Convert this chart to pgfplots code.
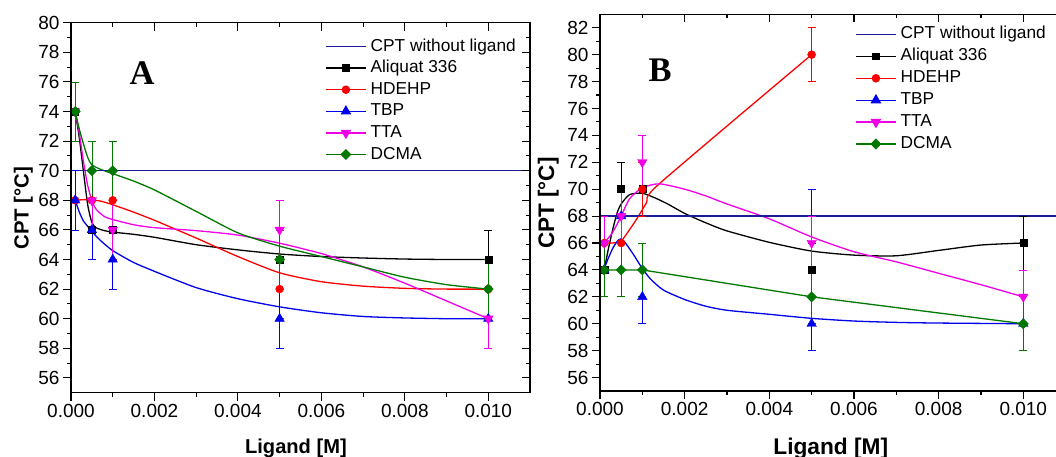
\documentclass[border=0pt]{standalone}
\usepackage{fontspec}
\setmainfont{Liberation Sans}
\newfontfamily\serifbold{Liberation Serif}
\usepackage{pgfplots}
\pgfplotsset{compat=1.18}
\definecolor{cnavy}{RGB}{28,28,150}
\definecolor{cblue}{RGB}{0,0,235}
\definecolor{cred}{RGB}{250,0,0}
\definecolor{cmag}{RGB}{240,0,230}
\definecolor{cgreen}{RGB}{0,120,0}
\pgfplotsset{
  common/.style={scale only axis, xmin=0, xmax=0.011,
    xtick={0,0.002,0.004,0.006,0.008,0.010},
    minor x tick num=1, minor y tick num=1, scaled x ticks=false,
    xticklabel style={/pgf/number format/fixed, /pgf/number format/fixed zerofill, /pgf/number format/precision=3},
    /pgf/number format/assume math mode=true,
    tick label style={font=\fontsize{19}{22}\selectfont},
    clip=false, axis line style={line width=1.4pt},
    major tick length=8pt, minor tick length=4pt,
    tick style={line width=1.1pt, black}},
  mainax/.style={common, xtick pos=left, ytick pos=left, tick align=outside},
  overax/.style={common, xtick pos=right, ytick pos=right, tick align=inside,
    xticklabels={}, yticklabels={}},
  sAli/.style={black, mark=square*, mark size=3.5pt},
  sHD/.style={cred, mark=*, mark size=4pt},
  sTBP/.style={cblue, mark=triangle*, mark size=5.5pt},
  sTTA/.style={cmag, mark=triangle*, mark size=5.5pt, mark options={rotate=180}},
  sDC/.style={cgreen, mark=square*, mark size=3.6pt, mark options={rotate=45}},
  curve/.style={no marks, line width=1.3pt, forget plot, smooth, tension=0.4},
  pts/.style={only marks, forget plot,
    /pgfplots/error bars/y dir=both, /pgfplots/error bars/y explicit,
    /pgfplots/error bars/error bar style={line width=0.7pt},
    /pgfplots/error bars/error mark options={rotate=90, mark size=4pt, line width=0.7pt}},
  myleg/.style={legend image code/.code={\draw[mark repeat=2, mark phase=2, ##1, every mark/.append style={scale=0.9}] plot coordinates {(0pt,0pt) (20pt,0pt) (40pt,0pt)};}},
  leg/.style={legend style={draw=none, fill=none, inner sep=0pt, anchor=north west,
    font=\fontsize{17.3}{20}\selectfont, cells={anchor=west},
    nodes={inner sep=0pt, text depth=3.6pt, text height=12.6pt}, column sep=4pt}},
}
\begin{document}
\begin{tikzpicture}[x=1pt,y=1pt]
\path[use as bounding box] (0,0) rectangle (1056,457);
\clip (0,0) rectangle (1056,457);
% ---------------- Panel A ----------------
\begin{axis}[mainax, leg, at={(71pt,64.3pt)}, anchor=south west, width=459pt, height=370pt,
  ymin=55, ymax=80, ytick={56,58,...,80},
  xlabel={\bfseries Ligand [M]}, ylabel={\bfseries CPT [°C]},
  xlabel style={at={(axis description cs:0.49,0)}, anchor=base, yshift=-61pt, font=\fontsize{20.1}{24}\selectfont},
  ylabel style={at={(axis description cs:-0.1039,0.499)}, anchor=center, font=\fontsize{20.4}{24}\selectfont},
  legend style={at={(0.5534,0.958)}, row sep=5.4pt}]
\addlegendimage{cnavy, line width=1.4pt, no marks, myleg}
\addlegendentry{CPT without ligand}
\addlegendimage{line width=1.3pt, sAli, myleg}
\addlegendentry{Aliquat 336}
\addlegendimage{line width=1.3pt, sHD, myleg}
\addlegendentry{HDEHP}
\addlegendimage{line width=1.3pt, sTBP, myleg}
\addlegendentry{TBP}
\addlegendimage{line width=1.3pt, sTTA, myleg}
\addlegendentry{TTA}
\addlegendimage{line width=1.3pt, sDC, myleg}
\addlegendentry{DCMA}
% fitted curves
\addplot[curve, black] coordinates {(0.0001,74) (0.0002,72.2) (0.0003,69.9) (0.0004,67.7) (0.0005,66.5) (0.0006,66.15) (0.0008,65.95) (0.001,65.85) (0.0015,65.7) (0.002,65.5) (0.003,65.0) (0.004,64.65) (0.005,64.37) (0.006,64.2) (0.007,64.1) (0.008,64.03) (0.009,64.0) (0.01,64)};
\addplot[curve, cred] coordinates {(0.0001,68) (0.0004,68.05) (0.0007,67.95) (0.001,67.7) (0.0015,67.2) (0.002,66.65) (0.0025,66.05) (0.003,65.45) (0.004,64.2) (0.005,63.1) (0.006,62.5) (0.007,62.2) (0.008,62.05) (0.009,62.0) (0.01,62)};
\addplot[curve, cblue] coordinates {(0.0001,68) (0.0002,67.2) (0.0003,66.6) (0.0005,65.9) (0.0007,65.3) (0.001,64.6) (0.0015,63.8) (0.002,63.2) (0.003,62.1) (0.004,61.35) (0.005,60.8) (0.006,60.4) (0.007,60.15) (0.008,60.05) (0.009,60.0) (0.01,60)};
\addplot[curve, cmag] coordinates {(0.0001,74) (0.0002,72.5) (0.0003,70.6) (0.0004,69.0) (0.0005,68.0) (0.0006,67.4) (0.0008,66.9) (0.001,66.7) (0.0015,66.35) (0.002,66.15) (0.003,65.95) (0.004,65.65) (0.005,65.1) (0.006,64.4) (0.007,63.5) (0.008,62.4) (0.009,61.2) (0.01,60)};
\addplot[curve, cgreen] coordinates {(0.0001,74) (0.0002,72.8) (0.0003,71.8) (0.0004,70.9) (0.0005,70.4) (0.0007,70.1) (0.001,69.8) (0.0015,69.3) (0.002,68.7) (0.003,67.25) (0.004,65.8) (0.005,64.9) (0.006,64.2) (0.007,63.5) (0.008,62.8) (0.009,62.3) (0.01,62)};
\addplot[cnavy, line width=1.4pt, forget plot] coordinates {(0,70) (0.011,70)};
% data points
\addplot[pts, sAli] coordinates {(0.0001,74) +- (0,2) (0.0005,66) +- (0,2) (0.001,66) +- (0,2) (0.005,64) +- (0,2) (0.01,64) +- (0,2)};
\addplot[pts, sHD] coordinates {(0.0001,68) +- (0,2) (0.0005,68) +- (0,2) (0.001,68) +- (0,2) (0.005,62) +- (0,2) (0.01,62) +- (0,2)};
\addplot[pts, sTBP] coordinates {(0.0001,68) +- (0,2) (0.0005,66) +- (0,2) (0.001,64) +- (0,2) (0.005,60) +- (0,2) (0.01,60) +- (0,2)};
\addplot[pts, sTTA] coordinates {(0.0001,74) +- (0,2) (0.0005,68) +- (0,2) (0.001,66) +- (0,2) (0.005,66) +- (0,2) (0.01,60) +- (0,2)};
\addplot[pts, sDC] coordinates {(0.0001,74) +- (0,2) (0.0005,70) +- (0,2) (0.001,70) +- (0,2) (0.005,64) +- (0,2) (0.01,62) +- (0,2)};
\node[font=\serifbold\bfseries\fontsize{34.5}{36}\selectfont] at (axis description cs:0.155,0.863) {A};
\end{axis}
\begin{axis}[overax, at={(71pt,64.3pt)}, anchor=south west, width=459pt, height=370pt,
  ymin=55, ymax=80, ytick={56,58,...,80}]
\end{axis}
% ---------------- Panel B ----------------
\begin{axis}[mainax, leg, at={(600pt,66pt)}, anchor=south west, width=465.6pt, height=376.7pt,
  ymin=55, ymax=83, ytick={56,58,...,82},
  xlabel={\bfseries Ligand [M]}, ylabel={\bfseries CPT [°C]},
  xlabel style={at={(axis description cs:0.4957,0)}, anchor=base, yshift=-63.6pt, font=\fontsize{22.7}{26}\selectfont},
  ylabel style={at={(axis description cs:-0.111,0.499)}, anchor=center, font=\fontsize{22.5}{26}\selectfont},
  legend style={at={(0.5477,0.9684)}, row sep=5.7pt}]
\addlegendimage{cnavy, line width=1.4pt, no marks, myleg}
\addlegendentry{CPT without ligand}
\addlegendimage{line width=1.3pt, sAli, myleg}
\addlegendentry{Aliquat 336}
\addlegendimage{line width=1.3pt, sHD, myleg}
\addlegendentry{HDEHP}
\addlegendimage{line width=1.3pt, sTBP, myleg}
\addlegendentry{TBP}
\addlegendimage{line width=1.3pt, sTTA, myleg}
\addlegendentry{TTA}
\addlegendimage{line width=1.3pt, sDC, myleg}
\addlegendentry{DCMA}
\addplot[curve, black] coordinates {(0.0001,64) (0.0002,65.6) (0.0003,67.0) (0.0004,68.2) (0.0005,68.9) (0.0007,69.6) (0.001,69.7) (0.0013,69.35) (0.0016,68.9) (0.002,68.2) (0.0025,67.5) (0.003,66.9) (0.004,66.05) (0.005,65.4) (0.006,65.1) (0.007,65.05) (0.008,65.45) (0.009,65.85) (0.01,66)};
\addplot[curve, cred] coordinates {(0.0001,66) (0.0003,66) (0.0005,66.15) (0.0007,67.0) (0.0009,67.95) (0.0011,69.0) (0.0014,70.4) (0.005,80)};
\addplot[curve, cblue] coordinates {(0.0001,64.1) (0.0002,64.9) (0.0003,65.6) (0.0004,66.1) (0.00048,66.3) (0.0006,66.0) (0.0008,65.1) (0.001,64.1) (0.0012,63.3) (0.0015,62.5) (0.002,61.8) (0.0025,61.3) (0.003,61.0) (0.004,60.7) (0.005,60.4) (0.006,60.2) (0.007,60.1) (0.008,60.05) (0.01,60)};
\addplot[curve, cmag] coordinates {(0.0001,66) (0.0003,66.8) (0.0005,68) (0.0007,69.3) (0.001,70.1) (0.0014,70.4) (0.002,70.0) (0.0025,69.5) (0.003,68.9) (0.004,67.8) (0.005,66.45) (0.006,65.35) (0.007,64.6) (0.008,63.75) (0.009,62.9) (0.01,62)};
\addplot[curve, cgreen, sharp plot] coordinates {(0.0001,64) (0.001,64) (0.005,62) (0.01,60)};
\addplot[cnavy, line width=1.4pt, forget plot] coordinates {(0,68) (0.011,68)};
\addplot[pts, sAli] coordinates {(0.0001,64) +- (0,2) (0.0005,70) +- (0,2) (0.001,70) +- (0,2) (0.005,64) +- (0,2) (0.01,66) +- (0,2)};
\addplot[pts, sHD] coordinates {(0.0001,66) +- (0,2) (0.0005,66) +- (0,2) (0.001,70) +- (0,2) (0.005,80) +- (0,2)};
\addplot[pts, sTBP] coordinates {(0.0001,64) +- (0,2) (0.0005,68) +- (0,2) (0.001,62) += (0,4) -= (0,2) (0.005,60) += (0,10) -= (0,2) (0.01,60) +- (0,2)};
\addplot[pts, sTTA] coordinates {(0.0001,66) +- (0,2) (0.0005,68) +- (0,2) (0.001,72) +- (0,2) (0.005,66) +- (0,2) (0.01,62) +- (0,2)};
\addplot[pts, sDC] coordinates {(0.0001,64) +- (0,2) (0.0005,64) +- (0,2) (0.001,64) +- (0,2) (0.005,62) +- (0,2) (0.01,60) +- (0,2)};
\node[font=\serifbold\bfseries\fontsize{34.5}{36}\selectfont] at (axis description cs:0.129,0.852) {B};
\end{axis}
\begin{axis}[overax, at={(600pt,66pt)}, anchor=south west, width=465.6pt, height=376.7pt,
  ymin=55, ymax=83, ytick={56,58,...,82}]
\end{axis}
\end{tikzpicture}
\end{document}
